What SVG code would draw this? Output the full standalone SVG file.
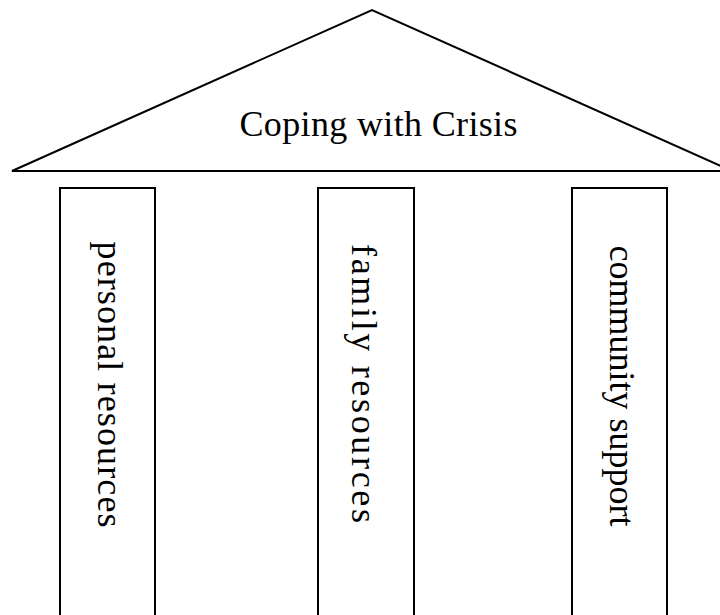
<svg xmlns="http://www.w3.org/2000/svg" width="720" height="615" viewBox="0 0 720 615">
<style>
.shape{fill:#fff;stroke:#000;stroke-width:2}
.lbl{font-family:"Liberation Serif","Times New Roman",serif;font-size:36px;fill:#000;text-anchor:middle}
</style>
<rect width="720" height="615" fill="#fff"/>
<g id="roof">
<polygon class="shape" points="12,171 372,10 732,171"/>
<text class="lbl" x="378.5" y="136" textLength="278" lengthAdjust="spacing">Coping with Crisis</text>
</g>
<g id="pillar-personal">
<rect class="shape" x="60" y="188" width="95" height="440"/>
<text class="lbl" transform="translate(98,384.5) rotate(90)" textLength="286" lengthAdjust="spacing">personal resources</text>
</g>
<g id="pillar-family">
<rect class="shape" x="318" y="188" width="96" height="440"/>
<text class="lbl" transform="translate(352,383.5) rotate(90)" textLength="279" lengthAdjust="spacing">family resources</text>
</g>
<g id="pillar-community">
<rect class="shape" x="572" y="188" width="95" height="440"/>
<text class="lbl" transform="translate(610,386) rotate(90)">community support</text>
</g>
<g id="connectors"></g>
</svg>
